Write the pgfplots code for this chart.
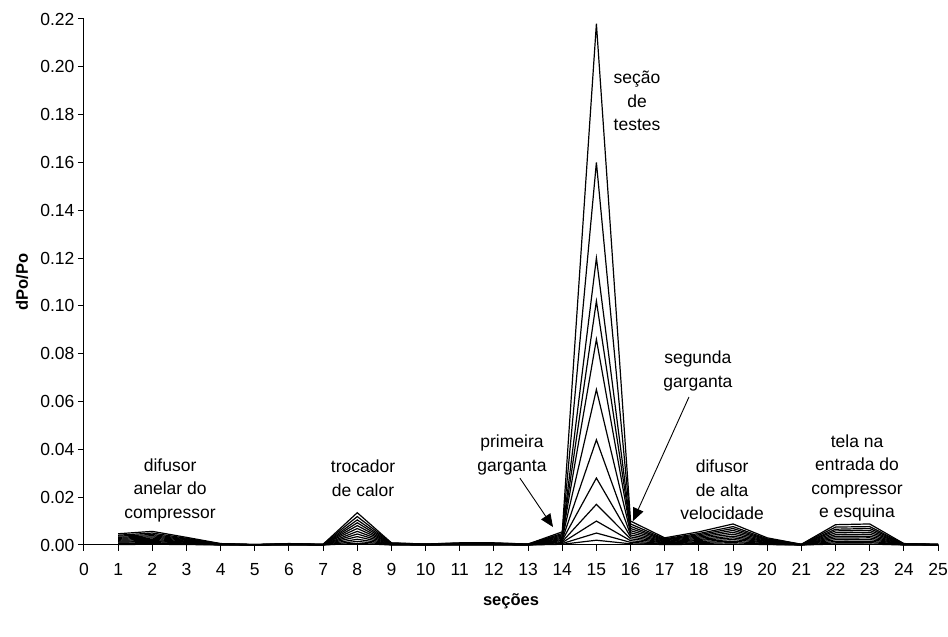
\documentclass[border=0pt]{standalone}
\usepackage{fontspec}
\setmainfont{Liberation Sans}
\usepackage{pgfplots}
\pgfplotsset{compat=1.18}
\usepackage{pgfplotstable}
\usetikzlibrary{arrows.meta}

\pgfplotstableread{
x  s1     s2     s3     s4     s5     s6     s7     s8     s9     s10    s11    s12
1  0.0047 0.0041 0.0037 0.0032 0.0028 0.0024 0.0020 0.0016 0.0012 0.0008 0.0005 0.0002
2  0.0057 0.0050 0.0044 0.0039 0.0034 0.0029 0.0024 0.0019 0.0015 0.0010 0.0006 0.0003
3  0.0032 0.0028 0.0025 0.0022 0.0019 0.0016 0.0013 0.0011 0.0008 0.0006 0.0004 0.0002
4  0.0006 0.0005 0.0005 0.0004 0.0004 0.0003 0.0003 0.0002 0.0002 0.0001 0.0001 0.0000
5  0.0002 0.0002 0.0002 0.0001 0.0001 0.0001 0.0001 0.0001 0.0001 0.0000 0.0000 0.0000
6  0.0006 0.0005 0.0005 0.0004 0.0004 0.0003 0.0003 0.0002 0.0002 0.0001 0.0001 0.0000
7  0.0003 0.0003 0.0002 0.0002 0.0002 0.0002 0.0001 0.0001 0.0001 0.0001 0.0000 0.0000
8  0.0135 0.0119 0.0105 0.0093 0.0081 0.0069 0.0057 0.0046 0.0035 0.0024 0.0015 0.0007
9  0.0009 0.0008 0.0007 0.0006 0.0005 0.0005 0.0004 0.0003 0.0002 0.0002 0.0001 0.0000
10 0.0004 0.0004 0.0003 0.0003 0.0002 0.0002 0.0002 0.0001 0.0001 0.0001 0.0000 0.0000
11 0.0009 0.0008 0.0007 0.0006 0.0005 0.0005 0.0004 0.0003 0.0002 0.0002 0.0001 0.0000
12 0.0009 0.0008 0.0007 0.0006 0.0005 0.0005 0.0004 0.0003 0.0002 0.0002 0.0001 0.0000
13 0.0004 0.0004 0.0003 0.0003 0.0002 0.0002 0.0002 0.0001 0.0001 0.0001 0.0000 0.0000
14 0.0055 0.0048 0.0043 0.0038 0.0033 0.0028 0.0023 0.0019 0.0014 0.0010 0.0006 0.0003
15 0.218  0.160  0.120  0.102  0.086  0.065  0.044  0.028  0.017  0.010  0.005  0.002
16 0.0100 0.0088 0.0078 0.0069 0.0060 0.0051 0.0042 0.0034 0.0026 0.0018 0.0011 0.0005
17 0.0030 0.0026 0.0023 0.0021 0.0018 0.0015 0.0013 0.0010 0.0008 0.0005 0.0003 0.0002
18 0.0055 0.0048 0.0043 0.0038 0.0033 0.0028 0.0023 0.0019 0.0014 0.0010 0.0006 0.0003
19 0.0088 0.0077 0.0069 0.0061 0.0053 0.0045 0.0037 0.0030 0.0023 0.0016 0.0010 0.0004
20 0.0030 0.0026 0.0023 0.0021 0.0018 0.0015 0.0013 0.0010 0.0008 0.0005 0.0003 0.0002
21 0.0003 0.0003 0.0002 0.0002 0.0002 0.0002 0.0001 0.0001 0.0001 0.0001 0.0000 0.0000
22 0.0085 0.0075 0.0066 0.0059 0.0051 0.0043 0.0036 0.0029 0.0022 0.0015 0.0009 0.0004
23 0.0088 0.0077 0.0069 0.0061 0.0053 0.0045 0.0037 0.0030 0.0023 0.0016 0.0010 0.0004
24 0.0006 0.0005 0.0005 0.0004 0.0004 0.0003 0.0003 0.0002 0.0002 0.0001 0.0001 0.0000
25 0.0003 0.0003 0.0002 0.0002 0.0002 0.0002 0.0001 0.0001 0.0001 0.0001 0.0000 0.0000
}\data

\begin{document}
\begin{tikzpicture}
\path[use as bounding box] (-84pt,-92pt) rectangle (864pt,545pt);
\begin{axis}[
  at={(0,0)}, anchor=south west,
  scale only axis, width=854pt, height=526pt,
  xmin=0, xmax=25, ymin=0, ymax=0.22,
  axis x line=bottom, axis y line=left,
  axis line style={-, line width=1pt},
  xtick={0,...,25},
  ytick={0,0.02,...,0.221},
  tick align=outside,
  major tick length=6pt,
  tick style={black, line width=1pt},
  tick label style={font=\fontsize{17.5}{20}\selectfont},
  yticklabel style={/pgf/number format/.cd, fixed, fixed zerofill, precision=2, assume math mode=true},
  xticklabel style={/pgf/number format/assume math mode=true, yshift=-9pt},
  every axis y label/.style={at={(axis description cs:0,0.5)}, xshift=-62pt, rotate=90, anchor=center, font=\fontsize{16.5}{19}\selectfont\bfseries},
  every axis x label/.style={at={(axis description cs:0.5,0)}, yshift=-56pt, anchor=center, font=\fontsize{16.5}{19}\selectfont\bfseries},
  ylabel={dPo/Po},
  xlabel={seções},
  clip=false,
]
\pgfplotsinvokeforeach{1,...,12}{
  \addplot[black, line width=1.2pt, line join=miter] table[x=x, y=s#1] {\data};
}
\begin{scope}[every node/.style={font=\fontsize{17.5}{23.5}\selectfont, align=center}]
\node at (axis cs:2.52,0.0230) {difusor\\anelar do\\compressor};
\node at (axis cs:8.17,0.0280) {trocador\\de calor};
\node at (axis cs:12.53,0.0376) {primeira\\garganta};
\node at (axis cs:17.97,0.0728) {segunda\\garganta};
\node at (axis cs:16.19,0.1857) {seção\\de\\testes};
\node at (axis cs:18.68,0.0230) {difusor\\de alta\\velocidade};
\node at (axis cs:22.63,0.0280) {tela na\\entrada do\\compressor\\e esquina};
\end{scope}
\draw[-{Triangle[length=13pt,width=11pt]}, line width=0.9pt] (axis cs:12.76,0.0280) -- (axis cs:13.73,0.0075);
\draw[-{Triangle[length=13pt,width=11pt]}, line width=0.9pt] (axis cs:17.71,0.0619) -- (axis cs:16.07,0.0100);
\end{axis}
\end{tikzpicture}
\end{document}
